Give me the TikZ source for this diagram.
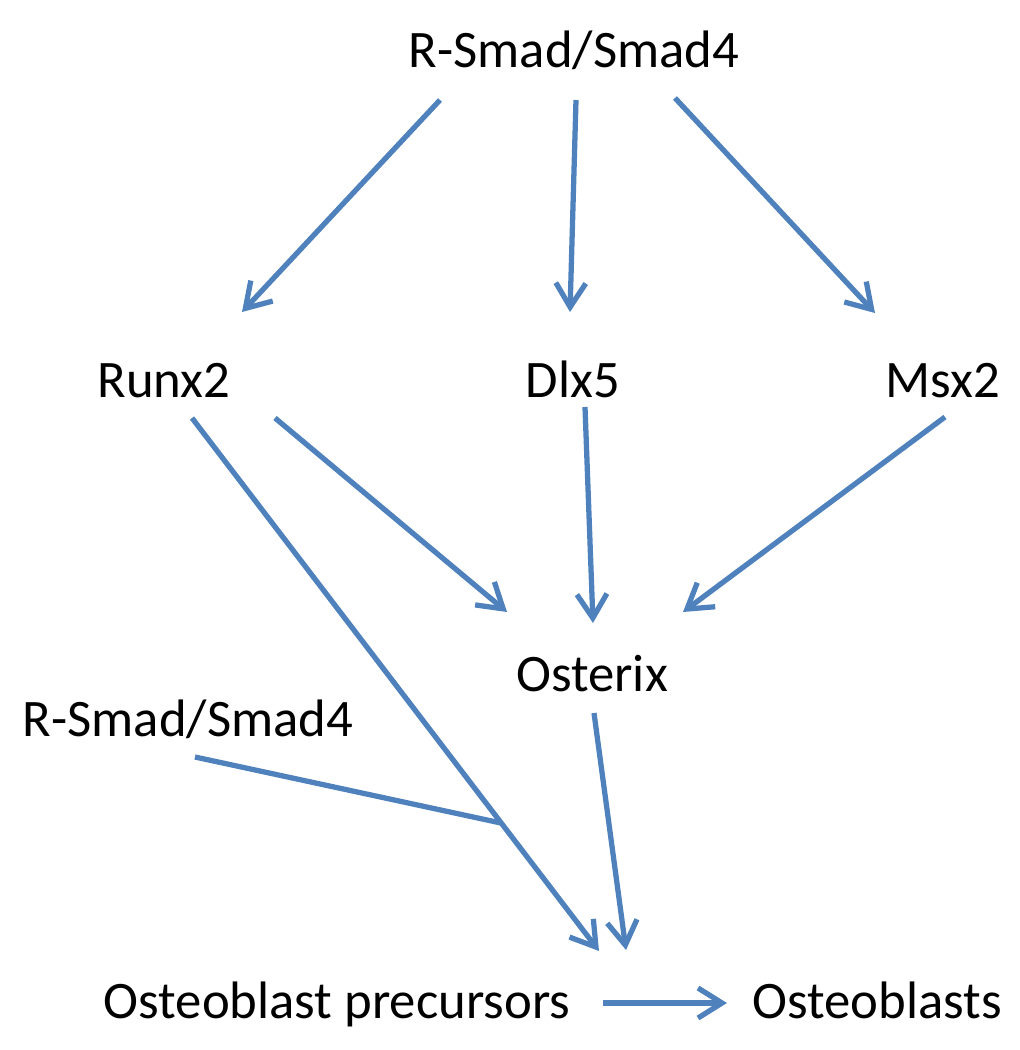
\documentclass[tikz,border=0pt]{standalone}
\usepackage{fontspec}
\setmainfont{Carlito}
\usepackage{tikz}
\usetikzlibrary{arrows.meta}
\definecolor{edgeblue}{RGB}{79,129,189}
\tikzset{
    gene/.style = {anchor=base, inner sep=0pt, font=\fontsize{15}{18}\selectfont},
    edgeb/.style = {-{Straight Barb[length=2.4mm,width=3mm]},line width=1.5pt,edgeblue},
    edgel/.style = {-,line width=1.5pt,edgeblue}, % no tip
}
\begin{document}
\begin{tikzpicture}
\useasboundingbox (0,0) rectangle (10.2,-10.5);
%
\node[gene] at (5.74,-0.67) (smadtop) {R-Smad/Smad4};
\node[gene] at (1.64,-3.97) (runx) {Runx2};
\node[gene] at (5.73,-3.97) (dlx) {Dlx5};
\node[gene] at (9.43,-3.97) (msx) {Msx2};
\node[gene] at (5.92,-6.91) (osx) {Osterix};
\node[gene] at (1.88,-7.36) (smadleft) {R-Smad/Smad4};
\node[gene] at (3.37,-10.18) (prec) {Osteoblast precursors};
\node[gene] at (8.77,-10.18) (ob) {Osteoblasts};
%
\draw[edgeb] ([shift={(-1.34,-0.33)}]smadtop.base) -- ([shift={(0.78,0.85)}]runx.base);
\draw[edgeb] ([shift={(0.02,-0.33)}]smadtop.base) -- ([shift={(-0.03,0.85)}]dlx.base);
\draw[edgeb] ([shift={(1.01,-0.31)}]smadtop.base) -- ([shift={(-0.68,0.84)}]msx.base);
\draw[edgeb] ([shift={(1.11,-0.21)}]runx.base) -- ([shift={(-0.85,0.79)}]osx.base);
\draw[edgeb] ([shift={(0.12,-0.10)}]dlx.base) -- ([shift={(0.01,0.68)}]osx.base);
\draw[edgeb] ([shift={(0.02,-0.20)}]msx.base) -- ([shift={(0.91,0.79)}]osx.base);
\draw[edgeb] ([shift={(0.28,-0.21)}]runx.base) -- coordinate[pos=0.76] (join) ([shift={(2.62,0.67)}]prec.base);
\draw[edgel] ([shift={(0.07,-0.21)}]smadleft.base) -- (join);
\draw[edgeb] ([shift={(0.02,-0.22)}]osx.base) -- ([shift={(2.89,0.68)}]prec.base);
\draw[edgeb] ([shift={(2.66,0.15)}]prec.base) -- ([shift={(-1.50,0.15)}]ob.base);
\end{tikzpicture}
\end{document}
